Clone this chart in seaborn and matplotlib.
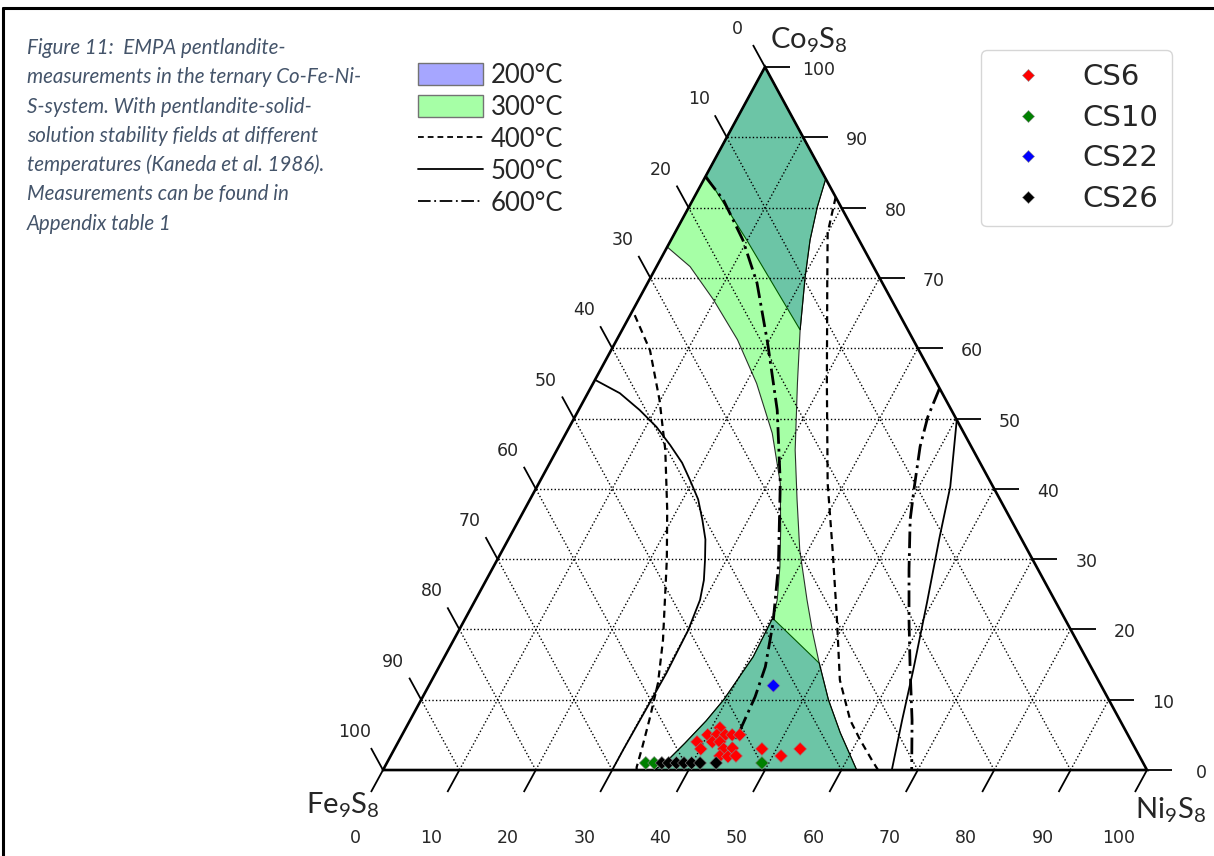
import numpy as np
import pandas as pd
import matplotlib
matplotlib.use("Agg")
import matplotlib.pyplot as plt
import matplotlib.transforms as mtransforms
from matplotlib.patches import Patch
from matplotlib.lines import Line2D
import seaborn as sns

# ---------------- EMPA analyses (Ni %, Co %; Fe = 100 - Ni - Co) ----------------
cs6_ni = [41.1, 40.0, 41.2, 42.3, 43.2, 44.2, 39.1, 41.1, 42.1, 40.1, 43.1, 44.2,
          43.1, 44.2, 45.2, 48.1, 51.1, 53.1]
cs6_co = [6.0, 5.0, 5.0, 5.0, 5.0, 5.0, 4.0, 4.0, 4.0, 3.0, 3.0, 3.1,
          2.0, 1.9, 2.0, 3.0, 2.0, 3.0]
cs10_ni = [33.9, 35.0, 49.1]
cs10_co = [1.0, 1.0, 1.0]
cs22_ni = [45.1]
cs22_co = [12.0]
cs26_ni = [36.0, 36.9, 37.9, 38.9, 39.9, 41.0, 43.1]
cs26_co = [1.0, 1.0, 1.0, 1.0, 1.0, 1.0, 1.0]
samples = ["CS6", "CS10", "CS22", "CS26"]
sample_colors = ["#ff0000", "#008000", "#0000ff", "#000000"]

# ---------------- pentlandite solid-solution fields (Kaneda et al. 1986) ----------------
# upper-left boundary of the 300 °C field
f300_left_ni = [0.0, 4.4, 9.8, 15.8, 21.4, 27.0, 31.6, 35.0, 37.5, 39.5, 40.2]
f300_left_co = [74.4, 71.6, 66.9, 61.2, 55.0, 47.9, 40.8, 34.1, 28.9, 24.2, 21.6]
# lower-left boundary shared by 200 °C and 300 °C
low_left_ni = [40.2, 40.4, 39.6, 38.8, 37.6, 36.5, 35.5]
low_left_co = [21.6, 16.1, 10.0, 7.0, 3.8, 1.2, 0.0]
# lower-right boundary shared by 200 °C and 300 °C
low_right_ni = [62.0, 60.1, 57.2, 53.3, 49.5]
low_right_co = [0.0, 2.1, 5.3, 10.0, 15.2]
# middle right boundary of the 300 °C field
f300_right_ni = [49.5, 46.5, 43.4, 38.9, 35.0, 31.2, 26.7, 23.3]
f300_right_co = [15.2, 19.5, 24.2, 31.3, 38.4, 45.5, 55.1, 62.6]
# upper-right boundary shared by 200 °C and 300 °C
top_right_ni = [23.3, 20.2, 18.2, 16.8, 15.9]
top_right_co = [62.6, 70.1, 75.4, 80.1, 84.1]
# lower limit of the Co-rich 200 °C field
f200_top_cut_ni = [0.0, 9.9, 23.3]
f200_top_cut_co = [84.6, 75.4, 62.6]
# upper limit of the Ni-Fe-rich 200 °C field
f200_low_cut_ni = [40.2, 49.5]
f200_low_cut_co = [21.6, 15.2]

# ---------------- field limits at higher temperatures ----------------
iso400_left_ni = [0.6, 5.1, 9.9, 14.2, 18.7, 22.2, 24.8, 27.4, 29.8, 31.2, 32.3, 33.0, 33.2]
iso400_left_co = [64.7, 59.7, 52.6, 45.5, 37.0, 29.9, 24.2, 18.5, 12.4, 7.5, 3.3, 0.4, 0.0]
iso400_right_ni = [18.5, 20.0, 23.5, 30.6, 37.8, 43.2, 48.5, 53.4, 57.6, 60.3, 63.3, 64.8]
iso400_right_co = [81.5, 76.4, 69.3, 55.0, 40.8, 31.3, 21.8, 12.8, 7.1, 4.3, 1.4, 0.0]
iso500_left_ni = [0.0, 4.2, 8.0, 11.4, 14.5, 17.3, 19.6, 22.0, 24.0, 25.8, 27.2, 28.5,
                  29.4, 30.0, 30.2, 30.1, 30.0, 30.0]
iso500_left_co = [55.5, 53.6, 51.2, 48.8, 46.2, 43.7, 41.2, 38.5, 35.6, 32.8, 29.9, 27.0,
                  24.2, 19.9, 13.8, 8.0, 3.0, 0.0]
iso500_right_ni = [50.2, 54.1, 56.3, 59.3, 62.3, 64.4, 66.6]
iso500_right_co = [49.8, 40.3, 33.1, 23.8, 14.2, 7.1, 0.0]
iso600_left_ni = [0.0, 4.0, 9.4, 14.3, 20.0, 26.0, 31.6, 37.3, 40.6, 42.7, 43.5, 43.9, 43.8]
iso600_left_co = [84.4, 81.1, 75.4, 69.3, 60.7, 51.2, 40.8, 28.9, 20.9, 14.7, 10.4, 5.7, 3.3]
iso600_right_ni = [45.7, 46.2, 47.3, 49.4, 51.2, 54.6, 58.2, 61.9, 65.7, 69.2]
iso600_right_co = [54.3, 50.2, 46.0, 40.3, 35.6, 28.5, 21.3, 14.2, 7.1, 0.0]

tick_values = [0, 10, 20, 30, 40, 50, 60, 70, 80, 90, 100]
legend_temps = ["200°C", "300°C", "400°C", "500°C", "600°C"]
caption_lines = [
    "Figure 11:  EMPA pentlandite-",
    "measurements in the ternary Co-Fe-Ni-",
    "S-system. With pentlandite-solid-",
    "solution stability fields at different",
    "temperatures (Kaneda et al. 1986).",
    "Measurements can be found in",
    "Appendix table 1",
]


def tern(ni, co):
    """Ni/Co percentages -> plotting coordinates of the ternary diagram."""
    ni = np.asarray(ni, float)
    co = np.asarray(co, float)
    return ni + co / 2.0, co


sns.set_style("white")
plt.rcParams["font.family"] = ["DejaVu Sans"]
plt.rcParams["mathtext.fontset"] = "custom"
plt.rcParams["mathtext.rm"] = "Lato"
plt.rcParams["mathtext.default"] = "regular"

W, H = 1214, 856
fig = plt.figure(figsize=(W / 100, H / 100), dpi=100)
ax = fig.add_axes([0, 0, 1, 1])
XLIM = (-50.13, 108.77)
YLIM = (-12.23, 109.53)
ax.set_xlim(*XLIM)
ax.set_ylim(*YLIM)
ax.axis("off")
sx = W / (XLIM[1] - XLIM[0])   # pixels per plotting unit
sy = H / (YLIM[1] - YLIM[0])

# ---- stability fields ----
BLUE = (0, 0, 1, 0.35)
LIME = (0, 1, 0, 0.35)
top200 = (np.r_[[0.0], f200_top_cut_ni, top_right_ni[1:]],
          np.r_[[100.0], f200_top_cut_co, top_right_co[1:]])
low200 = (np.r_[f200_low_cut_ni, low_right_ni[::-1][1:], low_left_ni[::-1][:-1]],
          np.r_[f200_low_cut_co, low_right_co[::-1][1:], low_left_co[::-1][:-1]])
for ni, co in (top200, low200):
    x, y = tern(ni, co)
    ax.fill(x, y, facecolor=BLUE, edgecolor="k", lw=0.8, zorder=1)

f300_ni = np.r_[[0.0], f300_left_ni, low_left_ni[1:], low_right_ni, f300_right_ni[1:], top_right_ni[1:]]
f300_co = np.r_[[100.0], f300_left_co, low_left_co[1:], low_right_co, f300_right_co[1:], top_right_co[1:]]
x, y = tern(f300_ni, f300_co)
ax.fill(x, y, facecolor=LIME, edgecolor=(0, 0, 0, 0.8), lw=0.8, zorder=1.1)

# ---- dotted grid ----
grid_kw = dict(color="k", lw=1.0, ls=(0, (1, 1.6)), zorder=2)
for k in tick_values[1:-1]:
    ax.plot(*tern([0, 100 - k], [k, k]), **grid_kw)        # constant Co
    ax.plot(*tern([k, k], [0, 100 - k]), **grid_kw)        # constant Ni
    ax.plot(*tern([100 - k, 0], [0, 100 - k]), **grid_kw)  # constant Fe

# ---- higher-temperature limits ----
LS400 = (0, (3.2, 2.2))
LS600 = (0, (6.0, 1.8, 1.0, 1.8))
ax.plot(*tern(iso400_left_ni, iso400_left_co), color="k", lw=1.6, ls=LS400, zorder=3)
ax.plot(*tern(iso400_right_ni, iso400_right_co), color="k", lw=1.6, ls=LS400, zorder=3)
ax.plot(*tern(iso500_left_ni, iso500_left_co), color="k", lw=1.3, zorder=3)
ax.plot(*tern(iso500_right_ni, iso500_right_co), color="k", lw=1.3, zorder=3)
ax.plot(*tern(iso600_left_ni, iso600_left_co), color="k", lw=2.0, ls=LS600, zorder=3)
ax.plot(*tern(iso600_right_ni, iso600_right_co), color="k", lw=2.0, ls=LS600, zorder=3)

# ---- triangle ----
ax.plot(*tern([0, 100, 0, 0], [0, 0, 100, 0]), color="k", lw=1.9,
        solid_joinstyle="miter", zorder=4)

# ---- ticks and tick labels ----
tick_kw = dict(color="k", lw=1.3, zorder=4, solid_capstyle="butt")
lab_kw = dict(fontsize=12.5, ha="center", va="center", family="DejaVu Sans")


def px_text(xd, yd, dx, dy, s, **kw):
    tr = mtransforms.offset_copy(ax.transData, fig=fig, x=dx, y=dy, units="dots")
    ax.text(xd, yd, s, transform=tr, **kw)


for k in tick_values:
    # bottom axis: Ni
    bx, by = tern([k], [0])
    ax.plot([bx[0], bx[0] - 12 / sx], [by[0], by[0] - 22 / sy], **tick_kw)
    px_text(bx[0], by[0], -28, -68, str(k), **lab_kw)
    # left axis: Fe
    lx, ly = tern([0], [100 - k])
    ax.plot([lx[0], lx[0] - 12 / sx], [ly[0], ly[0] + 22 / sy], **tick_kw)
    px_text(lx[0], ly[0], -28, 38, str(k), **lab_kw)
    # right axis: Co
    rx, ry = tern([100 - k], [k])
    ax.plot([rx[0], rx[0] + 25 / sx], [ry[0], ry[0]], **tick_kw)
    px_text(rx[0], ry[0], 54, -3, str(k), **lab_kw)

vkw = dict(fontsize=21, ha="center", va="center", family="Lato")
px_text(*[v[0] for v in tern([0], [100])], 44, 27, r"Co$_9$S$_8$", **vkw)
px_text(*[v[0] for v in tern([0], [0])], -40, -35, r"Fe$_9$S$_8$", **vkw)
px_text(*[v[0] for v in tern([100], [0])], 23, -40, r"Ni$_9$S$_8$", **vkw)

# ---- measurements ----
frames = []
for name, ni, co in zip(samples, [cs6_ni, cs10_ni, cs22_ni, cs26_ni],
                        [cs6_co, cs10_co, cs22_co, cs26_co]):
    x, y = tern(ni, co)
    frames.append(pd.DataFrame({"x": x, "y": y, "sample": name}))
df = pd.concat(frames, ignore_index=True)
sns.scatterplot(data=df, x="x", y="y", hue="sample", hue_order=samples,
                palette=dict(zip(samples, sample_colors)), marker="D", s=44,
                edgecolor="0.55", linewidth=0.4, ax=ax, zorder=5)
handles, labels = ax.get_legend_handles_labels()
ax.get_legend().remove()

fig.legend(handles, labels, loc="upper right",
           bbox_to_anchor=(1172 / W, 1 - 50 / H), bbox_transform=fig.transFigure,
           prop=dict(family="DejaVu Sans", size=21), labelspacing=0.43,
           borderpad=0.46, handlelength=2.3, handletextpad=0.72,
           markerscale=0.85, borderaxespad=0, frameon=True)

temp_handles = [
    Patch(facecolor=BLUE, edgecolor="0.45", lw=1.0),
    Patch(facecolor=LIME, edgecolor="0.45", lw=1.0),
    Line2D([], [], color="k", lw=1.3, ls=(0, (3.2, 2.2))),
    Line2D([], [], color="k", lw=1.3),
    Line2D([], [], color="k", lw=1.3, ls=(0, (7, 2, 1, 2))),
]
fig.legend(temp_handles, legend_temps, loc="upper left",
           bbox_to_anchor=(418 / W, 1 - 63 / H), bbox_transform=fig.transFigure,
           prop=dict(family="Lato", size=18.5), labelspacing=0.27,
           borderpad=0, handlelength=2.54, handleheight=0.95,
           handletextpad=0.3, borderaxespad=0, frameon=False)

# ---- caption ----
for i, line in enumerate(caption_lines):
    fig.text(27 / W, 1 - (48 + 29.3 * i) / H, line, family="Lato", style="italic",
             fontsize=14.8, color="#44546a", ha="left", va="center")

# ---- frame ----
fig.add_artist(Line2D([3 / W, 3 / W], [0, 1 - 8 / H], transform=fig.transFigure,
                      color="k", lw=2.2))
fig.add_artist(Line2D([3 / W, 1], [1 - 8 / H, 1 - 8 / H], transform=fig.transFigure,
                      color="k", lw=2.2))

fig.savefig("out.png", dpi=100)
